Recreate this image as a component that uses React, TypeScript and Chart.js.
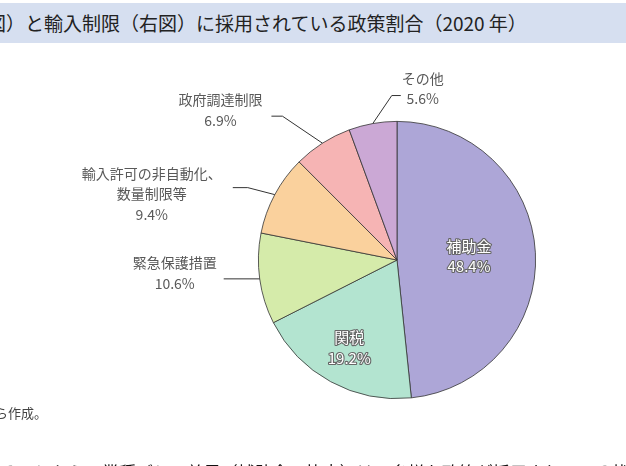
import React, { useEffect, useRef } from "react";
import { Chart, registerables, ChartOptions } from "chart.js";

Chart.register(...registerables);

// 政策の種類（時計回り、上から）
const policyNames: string[][] = [
  ["補助金"],
  ["関税"],
  ["緊急保護措置"],
  ["輸入許可の非自動化、", "数量制限等"],
  ["政府調達制限"],
  ["その他"],
];
const policyShares = [48.4, 19.2, 10.6, 9.4, 6.9, 5.6];
const sliceColors = ["#ADA6D7", "#B3E4D0", "#D5EBAA", "#FAD19D", "#F6B4B4", "#CBA8D5"];

const titleText = "図）と輸入制限（右図）に採用されている政策割合（2020 年）";
const sourceText = "から作成。";
const bodyText = "ることから、業種ごとの差異（補助金の比率）は、多様な政策が採用されている状況";

const FONT = "'Noto Sans CJK JP', 'Noto Sans', sans-serif";

// ラベル配置: inside = 扇形の中、outside = 引き出し線付き
type InsideLayout = { kind: "inside"; r: number };
type OutsideLayout = {
  kind: "outside";
  elbow: [number, number];
  tail: number;
  text: [number, number];
};
const labelLayout: (InsideLayout | OutsideLayout)[] = [
  { kind: "inside", r: 0.52 },
  { kind: "inside", r: 0.72 },
  { kind: "outside", elbow: [0, 0], tail: -36, text: [-85, -16] },
  { kind: "outside", elbow: [-27, -7], tail: -15, text: [-123, -21] },
  { kind: "outside", elbow: [-40, -27], tail: -11, text: [-102, -43] },
  { kind: "outside", elbow: [19, -28], tail: 9, text: [50, -45] },
];

const pieLabels = {
  id: "pieLabels",
  afterDatasetsDraw(chart: Chart) {
    const ctx = chart.ctx;
    const meta = chart.getDatasetMeta(0);
    const ds = chart.data.datasets[0].data as number[];
    meta.data.forEach((el: any, i: number) => {
      const { x, y, startAngle, endAngle, outerRadius } = el.getProps(
        ["x", "y", "startAngle", "endAngle", "outerRadius"],
        true
      );
      const mid = (startAngle + endAngle) / 2;
      const lines = [...policyNames[i], `${ds[i].toFixed(1)}%`];
      const lay = labelLayout[i];
      ctx.save();
      ctx.textAlign = "center";
      ctx.textBaseline = "middle";
      if (lay.kind === "inside") {
        const cx = x + Math.cos(mid) * outerRadius * lay.r;
        const cy = y + Math.sin(mid) * outerRadius * lay.r;
        ctx.font = `15px ${FONT}`;
        ctx.lineJoin = "round";
        lines.forEach((t, k) => {
          const ty = cy + (k - (lines.length - 1) / 2) * 20.5;
          ctx.strokeStyle = "#666";
          ctx.lineWidth = 2.2;
          ctx.strokeText(t, cx, ty);
          ctx.fillStyle = "#ffffff";
          ctx.fillText(t, cx, ty);
        });
      } else {
        const ex = x + Math.cos(mid) * outerRadius;
        const ey = y + Math.sin(mid) * outerRadius;
        const bx = ex + lay.elbow[0];
        const by = ey + lay.elbow[1];
        ctx.strokeStyle = "#333";
        ctx.lineWidth = 1;
        ctx.beginPath();
        ctx.moveTo(ex, ey);
        ctx.lineTo(bx, by);
        ctx.lineTo(bx + lay.tail, by);
        ctx.stroke();
        ctx.font = `14px ${FONT}`;
        ctx.fillStyle = "#595959";
        lines.forEach((t, k) => {
          ctx.fillText(t, ex + lay.text[0], ey + lay.text[1] + k * 20.5);
        });
      }
      ctx.restore();
    });
  },
};

const App: React.FC = () => {
  const canvasRef = useRef<HTMLCanvasElement>(null);

  useEffect(() => {
    if (!canvasRef.current) return;
    const chart = new Chart(canvasRef.current, {
      type: "pie",
      data: {
        labels: policyNames.map((n) => n.join("")),
        datasets: [
          {
            data: policyShares,
            backgroundColor: sliceColors,
            borderColor: "#333",
            borderWidth: 0.8,
          },
        ],
      },
      options: {
        responsive: false,
        animation: false,
        layout: { padding: { left: 258, right: 90, top: 121, bottom: 67 } },
        plugins: {
          legend: { display: false },
          tooltip: { enabled: false },
        },
      } as ChartOptions<"pie">,
      plugins: [pieLabels],
    });
    return () => {
      chart.destroy();
    };
  }, []);

  return (
    <div
      style={{
        position: "absolute",
        left: 0,
        top: 0,
        width: 626,
        height: 466,
        overflow: "hidden",
        background: "#fff",
        fontFamily: FONT,
      }}
    >
      <canvas
        ref={canvasRef}
        width={626}
        height={466}
        style={{ position: "absolute", left: 0, top: 0 }}
      />
      <div
        style={{
          position: "absolute",
          left: 0,
          top: 3,
          width: 626,
          height: 40,
          background: "#D6DFF0",
        }}
      />
      <div
        style={{
          position: "absolute",
          left: -13,
          top: 3,
          lineHeight: "40px",
          fontSize: 19,
          color: "#222",
          whiteSpace: "nowrap",
        }}
      >
        {titleText}
      </div>
      <div
        style={{
          position: "absolute",
          left: -18,
          top: 403,
          fontSize: 13,
          lineHeight: "20px",
          color: "#444",
          whiteSpace: "nowrap",
        }}
      >
        {sourceText}
      </div>
      <div
        style={{
          position: "absolute",
          left: 0,
          top: 460,
          fontSize: 17,
          lineHeight: "24px",
          color: "#111",
          whiteSpace: "nowrap",
        }}
      >
        {bodyText}
      </div>
    </div>
  );
};

export default App;
